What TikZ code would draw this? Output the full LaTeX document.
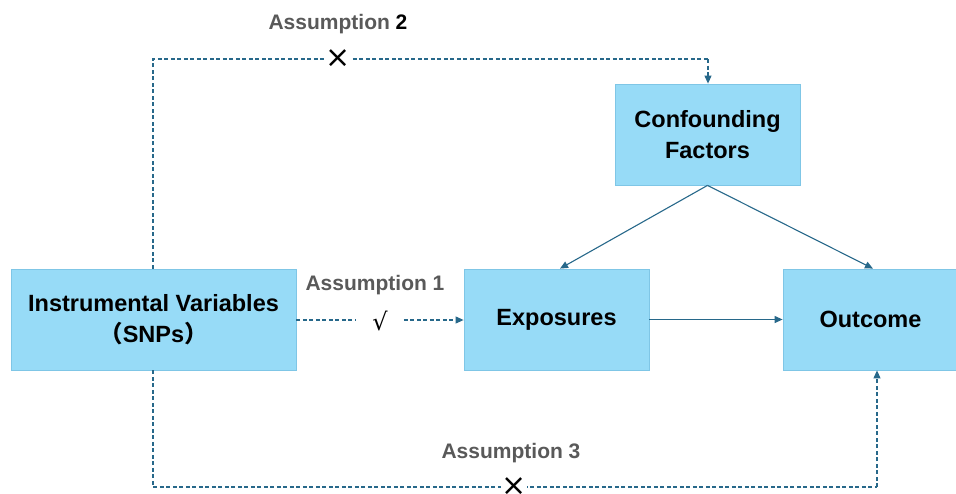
\documentclass[tikz,border=0pt]{standalone}
\usepackage{fontspec}
\setmainfont{Liberation Sans}
\newfontfamily\cjk{Noto Sans CJK SC}
\newfontfamily\symf{DejaVu Sans}
\usetikzlibrary{arrows.meta}
\definecolor{boxfill}{HTML}{97DBF7}
\definecolor{boxline}{HTML}{7FC6E6}
\definecolor{conn}{HTML}{27688A}
\definecolor{labgray}{HTML}{595959}
\tikzset{
  varbox/.style={draw=boxline, fill=boxfill, line width=0.8pt, minimum width=#1, minimum height=101pt, inner sep=0pt, align=center, font=\bfseries\fontsize{23.5}{31}\selectfont},
  solidarrow/.style={draw=conn, line width=1.1pt, -{Triangle[length=8pt,width=7pt]}},
  dasharrow/.style={draw=conn, line width=1.1pt, dash pattern=on 4pt off 2.5pt, -{Triangle[length=8pt,width=7pt]}},
  dashline/.style={draw=conn, line width=1.1pt, dash pattern=on 4pt off 2.5pt},
  asslab/.style={text=labgray, font=\bfseries\fontsize{21}{24}\selectfont, inner sep=0pt},
  crossmark/.style={fill=white, inner sep=0.5pt, font=\symf\fontsize{30}{30}\selectfont}
}
\begin{document}
\begin{tikzpicture}[x=1pt,y=-1pt]
\useasboundingbox (0,0) rectangle (956,493);
\node[varbox=285pt] (iv) at (153.5,319.5) {Instrumental Variables\\{\cjk （}SNPs{\cjk ）}};
\node[varbox=185pt] (exp) at (556.5,319.5) {Exposures};
\node[varbox=175pt] (out) at (870.5,319.5) {Outcome};
\node[varbox=185pt] (conf) at (707.5,134.5) {Confounding\\Factors};

\coordinate (tl) at (153,59);
\coordinate (tr) at (708,59);
\coordinate (bl) at (153,487);
\coordinate (br) at (877,487);

% Assumption 2
\draw[dashline] (iv.north -| tl) -- (tl) -- (tr);
\draw[dasharrow] (tr) -- (conf.north -| tr);
\node[crossmark] (x2) at (338,59) {×};
\node[asslab] (a2) at (338,24) {Assumption {\color{black}2}};

% Assumption 1
\node[crossmark, inner xsep=16pt, inner ysep=0pt, font=\symf\fontsize{24}{24}\selectfont] (ck) at (380,321) {√};
\node[asslab] (a1) at (375,285) {Assumption 1};
\draw[dashline] (iv.east |- 0,320) -- (ck.west |- 0,320);
\draw[dasharrow] (ck.east |- 0,320) -- (exp.west |- 0,320);

% Assumption 3
\draw[dashline] (iv.south -| bl) -- (bl) -- (br);
\draw[dasharrow] (br) -- (out.south -| br);
\node[crossmark] (x3) at (514,487) {×};
\node[asslab] (a3) at (511,453) {Assumption 3};

% solid arrows
\draw[solidarrow] (exp.east) -- (out.west);
\draw[solidarrow] (conf.south) -- (exp.north -| 560,0);
\draw[solidarrow] (conf.south) -- (out.north -| 873,0);
\end{tikzpicture}
\end{document}
